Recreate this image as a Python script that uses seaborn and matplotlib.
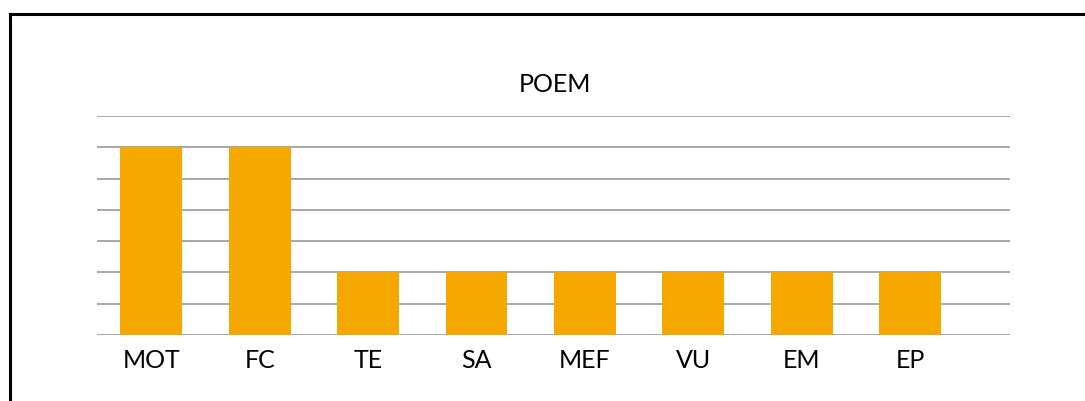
import matplotlib
matplotlib.use("Agg")
import matplotlib.pyplot as plt
import seaborn as sns
import pandas as pd
from matplotlib.lines import Line2D

categories = ["MOT", "FC", "TE", "SA", "MEF", "VU", "EM", "EP"]
values = [6, 6, 2, 2, 2, 2, 2, 2]
title = "POEM"

sns.set_theme(style="white")
plt.rcParams['font.family'] = ['Lato', 'DejaVu Sans']

W, H = 1085, 401
fig = plt.figure(figsize=(W / 100, H / 100), dpi=100)
ax = fig.add_axes([97 / W, 1 - 335 / H, (1010 - 97) / W, (335 - 116) / H])

df = pd.DataFrame({"cat": categories, "val": values})
sns.barplot(data=df, x="cat", y="val", color="#F5A800", saturation=1,
            width=0.57, ax=ax, zorder=3, linewidth=0, edgecolor="none")

ax.set_ylim(0, 7)
ax.set_xlim(-0.5, 7.92)
ax.set_yticks(range(0, 8))
ax.yaxis.grid(True, color="#a0a0a0", linewidth=1.3, zorder=0)
ax.set_axisbelow(True)
ax.tick_params(axis="y", left=False, labelleft=False)
ax.tick_params(axis="x", bottom=False, labelsize=18, pad=4, colors="black")
for s in ax.spines.values():
    s.set_visible(False)
ax.set_xlabel("")
ax.set_ylabel("")

fig.text(555 / W, 1 - 84 / H, title, ha="center", va="center", fontsize=18, color="black")

# outer frame (partially visible)
lw = 2.2
fig.add_artist(Line2D([10 / W, 10 / W], [0, 1 - 14 / H], transform=fig.transFigure,
                      color="black", linewidth=lw, solid_capstyle="projecting"))
fig.add_artist(Line2D([10 / W, 1], [1 - 14 / H, 1 - 14 / H], transform=fig.transFigure,
                      color="black", linewidth=lw, solid_capstyle="projecting"))

fig.savefig("out.png", dpi=100, facecolor="white")
